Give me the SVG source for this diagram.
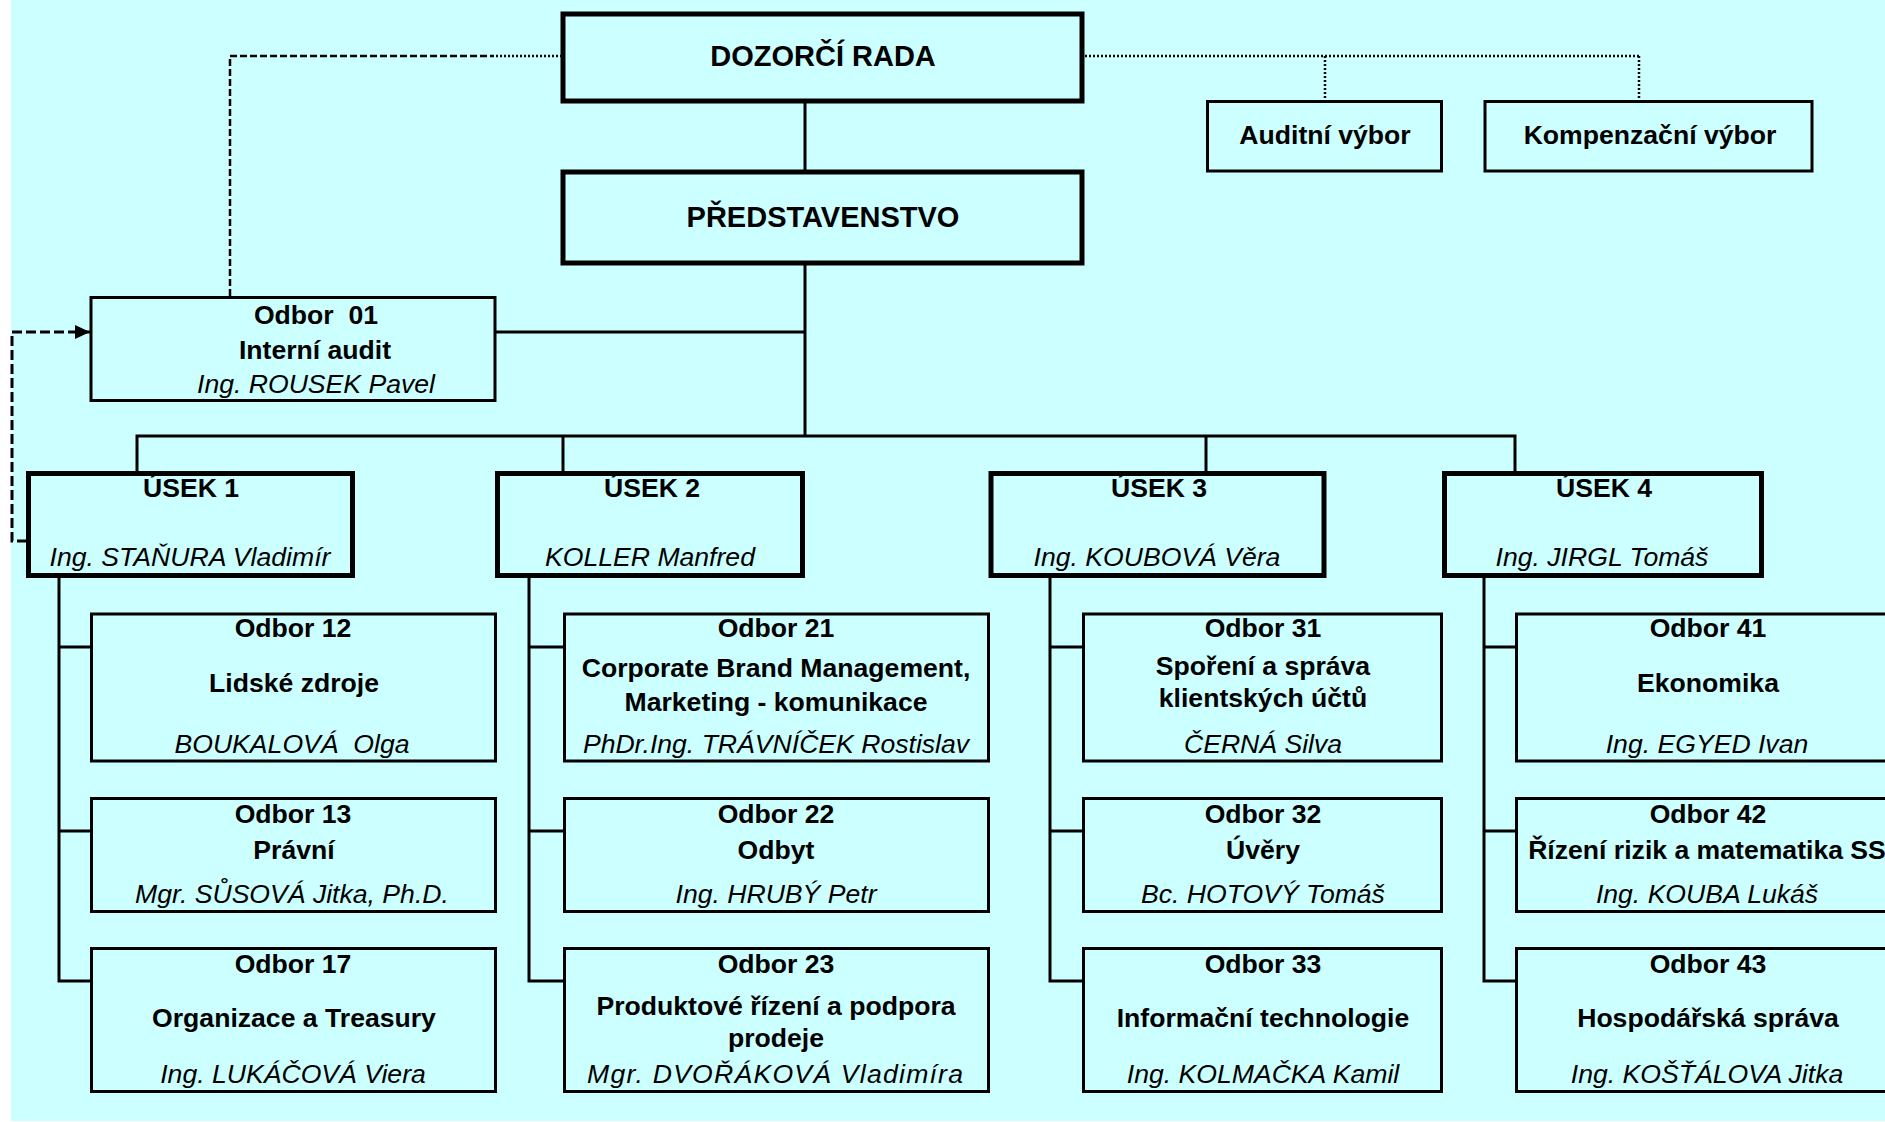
<svg xmlns="http://www.w3.org/2000/svg" width="1885" height="1122" viewBox="0 0 1885 1122">
<style>
text{font-family:"Liberation Sans",Arial,sans-serif;font-size:26.6px;fill:#000;text-anchor:middle}
.b{font-weight:bold}
.i{font-style:italic}
.t{font-size:29px;font-weight:bold}
.thick{fill:#CCFFFF;stroke:#000;stroke-width:5}
.thin{fill:#CCFFFF;stroke:#000;stroke-width:3}
.ln{fill:none;stroke:#000;stroke-width:3}
.dot{fill:none;stroke:#000;stroke-width:2.5;stroke-dasharray:2 2}
.dash{fill:none;stroke:#000;stroke-width:2.5;stroke-dasharray:7 3}
.dd{fill:none;stroke:#000;stroke-width:3;stroke-dasharray:10 4}
</style>
<defs>
<marker id="arr" markerWidth="16" markerHeight="14" refX="15" refY="7" orient="auto" markerUnits="userSpaceOnUse">
<path d="M0,0 L15,7 L0,14 Z" fill="#000"/>
</marker>
</defs>
<rect x="0" y="0" width="1885" height="1122" fill="#fff"/>
<rect x="11" y="0" width="1874" height="1121" fill="#CCFFFF"/>

<g id="connectors">
<line class="ln" x1="805" y1="100" x2="805" y2="172"/>
<line class="ln" x1="805" y1="263" x2="805" y2="436"/>
<line class="ln" x1="495" y1="332" x2="805" y2="332"/>
<polyline class="ln" points="137,473 137,436 1515,436 1515,473"/>
<line class="ln" x1="563" y1="436" x2="563" y2="473"/>
<line class="ln" x1="1206" y1="436" x2="1206" y2="473"/>
<polyline class="ln" points="59,576 59,981 91,981"/>
<line class="ln" x1="59" y1="647" x2="91" y2="647"/>
<line class="ln" x1="59" y1="831" x2="91" y2="831"/>
<polyline class="ln" points="529,576 529,981 564,981"/>
<line class="ln" x1="529" y1="647" x2="564" y2="647"/>
<line class="ln" x1="529" y1="831" x2="564" y2="831"/>
<polyline class="ln" points="1050,576 1050,981 1083,981"/>
<line class="ln" x1="1050" y1="647" x2="1083" y2="647"/>
<line class="ln" x1="1050" y1="831" x2="1083" y2="831"/>
<polyline class="ln" points="1484,576 1484,981 1516,981"/>
<line class="ln" x1="1484" y1="647" x2="1516" y2="647"/>
<line class="ln" x1="1484" y1="831" x2="1516" y2="831"/>
<polyline class="dash" points="230,296 230,56 492,56"/>
<line class="dot" x1="492" y1="56" x2="561" y2="56"/>
<line class="dot" x1="1085" y1="56" x2="1639" y2="56"/>
<line class="dot" x1="1325" y1="56" x2="1325" y2="100"/>
<line class="dot" x1="1639" y1="56" x2="1639" y2="100"/>
<polyline class="dd" points="27,541 12,541 12,332 90,332" marker-end="url(#arr)"/>
</g>

<g id="dozorci-rada">
<rect class="thick" x="563" y="14" width="519" height="87"/>
<text class="t" x="823" y="66">DOZORČÍ RADA</text>
</g>
<g id="auditni-vybor">
<rect class="thin" x="1207.5" y="101.5" width="234" height="69.5"/>
<text class="b" x="1325" y="144">Auditní výbor</text>
</g>
<g id="kompenzacni-vybor">
<rect class="thin" x="1485" y="101.5" width="327" height="69.5"/>
<text class="b" x="1650" y="144">Kompenzační výbor</text>
</g>
<g id="predstavenstvo">
<rect class="thick" x="563" y="172" width="519" height="91"/>
<text class="t" x="823" y="227">PŘEDSTAVENSTVO</text>
</g>
<g id="odbor-01">
<rect class="thin" x="91" y="297.5" width="404" height="103"/>
<text class="b" x="316" y="324" xml:space="preserve">Odbor  01</text>
<text class="b" x="315" y="359">Interní audit</text>
<text class="i" x="316" y="393">Ing. ROUSEK Pavel</text>
</g>

<g id="usek-1">
<rect class="thick" x="28.5" y="473.5" width="324" height="102"/>
<text class="b" x="191" y="497">ÚSEK 1</text>
<text class="i" x="190" y="566">Ing. STAŇURA Vladimír</text>
</g>
<g id="usek-2">
<rect class="thick" x="497.5" y="473.5" width="305" height="102"/>
<text class="b" x="652" y="497">ÚSEK 2</text>
<text class="i" x="650" y="566">KOLLER Manfred</text>
</g>
<g id="usek-3">
<rect class="thick" x="991" y="473.5" width="333" height="102"/>
<text class="b" x="1159" y="497">ÚSEK 3</text>
<text class="i" x="1157" y="566">Ing. KOUBOVÁ Věra</text>
</g>
<g id="usek-4">
<rect class="thick" x="1444.5" y="473.5" width="317" height="102"/>
<text class="b" x="1604" y="497">ÚSEK 4</text>
<text class="i" x="1602" y="566">Ing. JIRGL Tomáš</text>
</g>

<g id="odbor-12">
<rect class="thin" x="91.5" y="614" width="404" height="147"/>
<text class="b" x="293" y="637">Odbor 12</text>
<text class="b" x="294" y="692">Lidské zdroje</text>
<text class="i" x="292" y="753" xml:space="preserve">BOUKALOVÁ  Olga</text>
</g>
<g id="odbor-13">
<rect class="thin" x="91.5" y="798.5" width="404" height="113"/>
<text class="b" x="293" y="823">Odbor 13</text>
<text class="b" x="294" y="859">Právní</text>
<text class="i" x="292" y="903">Mgr. SŮSOVÁ Jitka, Ph.D.</text>
</g>
<g id="odbor-17">
<rect class="thin" x="91.5" y="948.5" width="404" height="143"/>
<text class="b" x="293" y="973">Odbor 17</text>
<text class="b" x="294" y="1027">Organizace a Treasury</text>
<text class="i" x="293" y="1083">Ing. LUKÁČOVÁ Viera</text>
</g>

<g id="odbor-21">
<rect class="thin" x="564.5" y="614" width="424" height="147"/>
<text class="b" x="776" y="637">Odbor 21</text>
<text class="b" x="776" y="677">Corporate Brand Management,</text>
<text class="b" x="776" y="711">Marketing - komunikace</text>
<text class="i" x="776" y="753">PhDr.Ing. TRÁVNÍČEK Rostislav</text>
</g>
<g id="odbor-22">
<rect class="thin" x="564.5" y="798.5" width="424" height="113"/>
<text class="b" x="776" y="823">Odbor 22</text>
<text class="b" x="776" y="859">Odbyt</text>
<text class="i" x="776" y="903">Ing. HRUBÝ Petr</text>
</g>
<g id="odbor-23">
<rect class="thin" x="564.5" y="948.5" width="424" height="143"/>
<text class="b" x="776" y="973">Odbor 23</text>
<text class="b" x="776" y="1015">Produktové řízení a podpora</text>
<text class="b" x="776" y="1047">prodeje</text>
<text class="i" x="775" y="1083" textLength="376" lengthAdjust="spacing">Mgr. DVOŘÁKOVÁ Vladimíra</text>
</g>

<g id="odbor-31">
<rect class="thin" x="1083.5" y="614" width="358" height="147"/>
<text class="b" x="1263" y="637">Odbor 31</text>
<text class="b" x="1263" y="675">Spoření a správa</text>
<text class="b" x="1263" y="707">klientských účtů</text>
<text class="i" x="1263" y="753">ČERNÁ Silva</text>
</g>
<g id="odbor-32">
<rect class="thin" x="1083.5" y="798.5" width="358" height="113"/>
<text class="b" x="1263" y="823">Odbor 32</text>
<text class="b" x="1263" y="859">Úvěry</text>
<text class="i" x="1263" y="903">Bc. HOTOVÝ Tomáš</text>
</g>
<g id="odbor-33">
<rect class="thin" x="1083.5" y="948.5" width="358" height="143"/>
<text class="b" x="1263" y="973">Odbor 33</text>
<text class="b" x="1263" y="1027">Informační technologie</text>
<text class="i" x="1263" y="1083">Ing. KOLMAČKA Kamil</text>
</g>

<g id="odbor-41">
<rect class="thin" x="1516.5" y="614" width="400" height="147"/>
<text class="b" x="1708" y="637">Odbor 41</text>
<text class="b" x="1708" y="692">Ekonomika</text>
<text class="i" x="1707" y="753">Ing. EGYED Ivan</text>
</g>
<g id="odbor-42">
<rect class="thin" x="1516.5" y="798.5" width="400" height="113"/>
<text class="b" x="1708" y="823">Odbor 42</text>
<text class="b" x="1707" y="859">Řízení rizik a matematika SS</text>
<text class="i" x="1707" y="903">Ing. KOUBA Lukáš</text>
</g>
<g id="odbor-43">
<rect class="thin" x="1516.5" y="948.5" width="400" height="143"/>
<text class="b" x="1708" y="973">Odbor 43</text>
<text class="b" x="1708" y="1027">Hospodářská správa</text>
<text class="i" x="1707" y="1083">Ing. KOŠŤÁLOVA Jitka</text>
</g>
</svg>
